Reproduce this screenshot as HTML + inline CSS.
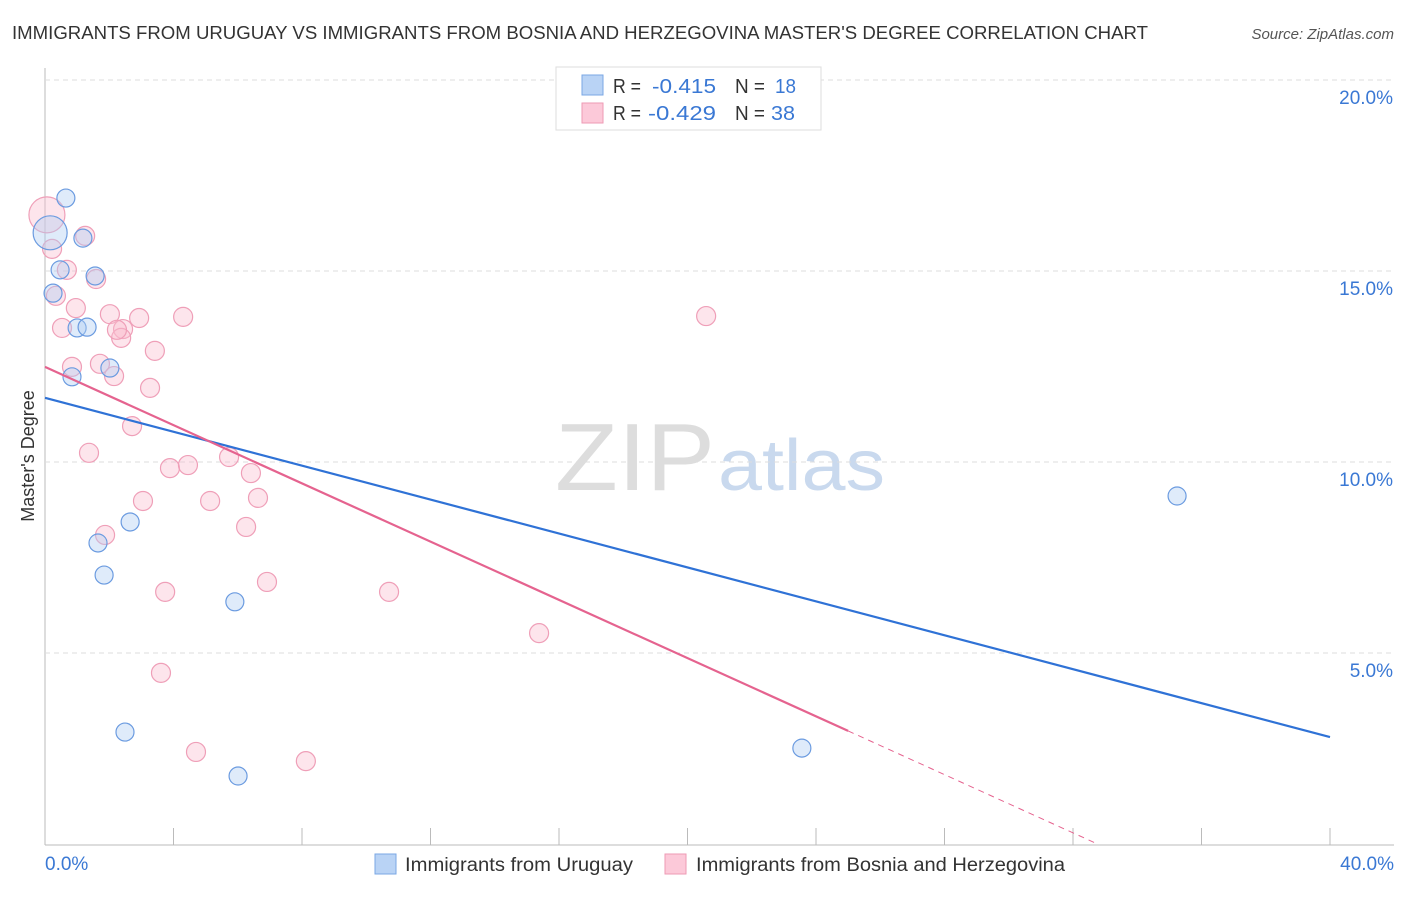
<!DOCTYPE html>
<html><head><meta charset="utf-8"><style>
body{margin:0;background:#fff;font-family:"Liberation Sans",sans-serif;}
svg text{font-family:"Liberation Sans",sans-serif;}
</style></head><body>
<svg id="c" width="1406" height="892" viewBox="0 0 1406 892">
<text x="12" y="39" font-size="18" fill="#333" textLength="1136" lengthAdjust="spacingAndGlyphs">IMMIGRANTS FROM URUGUAY VS IMMIGRANTS FROM BOSNIA AND HERZEGOVINA MASTER'S DEGREE CORRELATION CHART</text>
<text x="1394" y="39" font-size="15" fill="#555" font-style="italic" text-anchor="end">Source: ZipAtlas.com</text>
<text x="555" y="490" font-size="96" fill="#ddd" font-family="Liberation Serif" textLength="160" lengthAdjust="spacingAndGlyphs">ZIP</text>
<text x="718" y="490" font-size="72" fill="#c9d9ee" textLength="167" lengthAdjust="spacingAndGlyphs">atlas</text>
<text x="34" y="456" font-size="18" fill="#333" text-anchor="middle" transform="rotate(-90 34 456)">Master's Degree</text>
<g id="grid"></g><g id="marks"></g><g id="lines"></g>
<rect x="556" y="67" width="265" height="63" fill="#fff" stroke="#ddd"/>
<rect x="582" y="75" width="21" height="20" fill="#b9d3f5" stroke="#7aa7e4"/>
<rect x="582" y="103" width="21" height="20" fill="#fcc9d9" stroke="#ee9ab4"/>
<g font-size="20">
<text x="613" y="93" fill="#333" textLength="28" lengthAdjust="spacingAndGlyphs">R =</text><text x="652" y="93" fill="#3a78d4" textLength="64" lengthAdjust="spacingAndGlyphs">-0.415</text><text x="735" y="93" fill="#333" textLength="30" lengthAdjust="spacingAndGlyphs">N =</text><text x="775" y="93" fill="#3a78d4" textLength="21" lengthAdjust="spacingAndGlyphs">18</text>
<text x="613" y="120" fill="#333" textLength="28" lengthAdjust="spacingAndGlyphs">R =</text><text x="648" y="120" fill="#3a78d4" textLength="68" lengthAdjust="spacingAndGlyphs">-0.429</text><text x="735" y="120" fill="#333" textLength="30" lengthAdjust="spacingAndGlyphs">N =</text><text x="771" y="120" fill="#3a78d4" textLength="24" lengthAdjust="spacingAndGlyphs">38</text>
</g>
<rect x="375" y="854" width="21" height="20" fill="#b9d3f5" stroke="#7aa7e4"/>
<text x="405" y="871" font-size="19" fill="#333" textLength="228" lengthAdjust="spacingAndGlyphs">Immigrants from Uruguay</text>
<rect x="665" y="854" width="21" height="20" fill="#fcc9d9" stroke="#ee9ab4"/>
<text x="696" y="871" font-size="19" fill="#333" textLength="369" lengthAdjust="spacingAndGlyphs">Immigrants from Bosnia and Herzegovina</text>
</svg>
<script>
const yTicks=[5,10,15,20];
const yTickLabels=["5.0%","10.0%","15.0%","20.0%"];
const xEndLabels=["0.0%","40.0%"];
const blueX=[0.65,0.16,1.18,0.47,1.56,0.25,1.0,1.31,0.84,2.02,2.65,1.65,1.84,5.91,2.49,6.01,23.56,35.24];
const blueY=[16.91,16.0,15.86,15.03,14.87,14.42,13.51,13.53,12.23,12.46,8.43,7.88,7.04,6.34,2.93,1.78,2.51,9.11];
const pinkX=[0.06,0.22,0.68,1.25,1.59,0.34,0.53,0.96,2.02,2.43,2.37,2.93,4.30,0.84,1.71,2.15,3.42,3.27,2.71,1.37,3.89,4.45,5.73,6.41,3.05,5.14,6.63,6.26,1.87,6.91,3.74,10.71,15.38,3.61,4.70,8.12,20.58,2.24];
const pinkY=[16.47,15.58,15.03,15.92,14.79,14.35,13.51,14.03,13.87,13.48,13.25,13.77,13.80,12.49,12.57,12.25,12.91,11.94,10.94,10.24,9.84,9.92,10.13,9.71,8.98,8.98,9.06,8.30,8.09,6.86,6.60,6.60,5.52,4.48,2.41,2.17,13.82,13.46];
const blueTrend=[11.68,2.80]; // y at x=0, x=40
const pinkTrend=[12.49,2.96]; // y at x=0, x=25
const pinkTrendEndX=25;
const NS="http://www.w3.org/2000/svg";
const X=v=>45+v*(1285/40), Y=v=>844-v*38.2;
function mk(t,a,p){const e=document.createElementNS(NS,t);for(const k in a)e.setAttribute(k,a[k]);p.appendChild(e);return e;}
const grid=document.getElementById('grid'),marks=document.getElementById('marks'),lines=document.getElementById('lines');
let ax=mk('line',{x1:45,y1:68,x2:45,y2:845,stroke:'#bbb'},grid);


let bx=mk('line',{x1:45,y1:845,x2:1394,y2:845,stroke:'#bbb'},grid);


yTicks.forEach((v,i)=>{
 const g=mk('line',{x1:45,y1:Y(v),x2:1394,y2:Y(v),stroke:'#ddd','stroke-dasharray':'5,4'},grid);
 
 
 const t=mk('text',{x:1393,y:Y(v)+24,'font-size':19,fill:'#3a78d4','text-anchor':'end'},grid);t.textContent=yTickLabels[i];
 
 
});
for(let i=0;i<=10;i++){const tk=mk('line',{x1:X(i*4),y1:828,x2:X(i*4),y2:845,stroke:'#bbb'},grid);
 
 }
[[0,'start',45],[1,'end',1394]].forEach(([i,a,x])=>{const t=mk('text',{x:x,y:870,'font-size':19,fill:'#3a78d4','text-anchor':a},grid);t.textContent=xEndLabels[i];
 
 });
pinkX.forEach((x,i)=>{const c=mk('circle',{cx:X(x),cy:Y(pinkY[i]),r:i==0?18:9.5,fill:'rgba(250,190,208,0.4)',stroke:'#ef9fb8','stroke-width':1.2},marks);
 
 });
blueX.forEach((x,i)=>{const c=mk('circle',{cx:X(x),cy:Y(blueY[i]),r:i==1?17:9,fill:'rgba(175,205,242,0.4)',stroke:'#6b9be0','stroke-width':1.2},marks);
 
 });
const bl=mk('line',{x1:X(0),y1:Y(blueTrend[0]),x2:X(40),y2:Y(blueTrend[1]),stroke:'#2f72d6','stroke-width':2.2},lines);


const pl=mk('line',{x1:X(0),y1:Y(pinkTrend[0]),x2:X(pinkTrendEndX),y2:Y(pinkTrend[1]),stroke:'#e5638f','stroke-width':2.2},lines);


const slope=(pinkTrend[1]-pinkTrend[0])/pinkTrendEndX, xz=-pinkTrend[0]/slope;
const pd=mk('line',{x1:X(pinkTrendEndX),y1:Y(pinkTrend[1]),x2:X(xz),y2:Y(0),stroke:'#e5638f','stroke-width':1,'stroke-dasharray':'6,5'},lines);


</script>
</body></html>
